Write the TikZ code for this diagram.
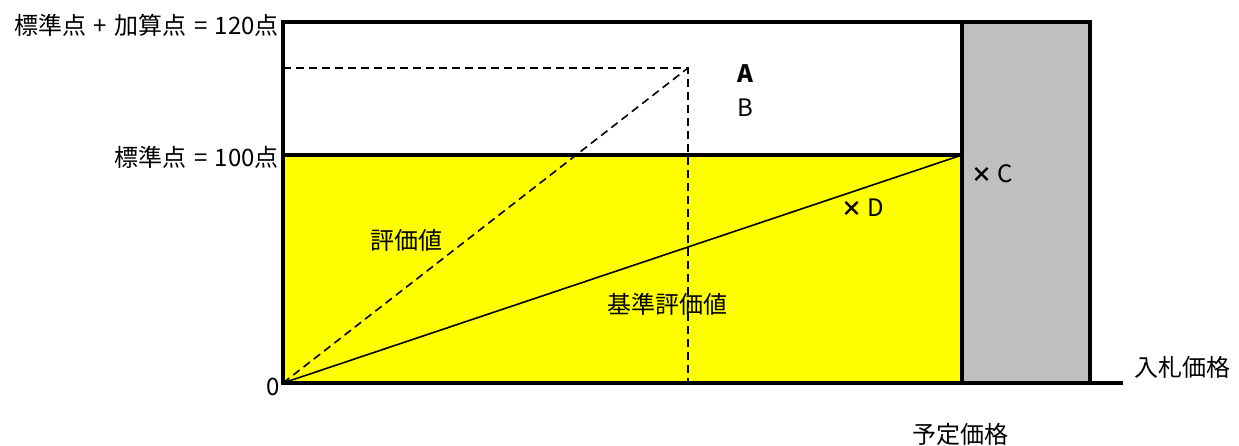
\documentclass[tikz,border=0pt]{standalone}
\usepackage{fontspec}
\setmainfont{Noto Sans CJK JP}
\newfontfamily\cjk{Noto Sans CJK JP}
\definecolor{yel}{RGB}{255,255,0}
\definecolor{gry}{RGB}{191,191,191}
\newcommand{\crossmark}{{\bfseries\fontsize{21}{21}\selectfont ×}}
\newcommand{\gap}{\hspace{7.5pt}}
\begin{document}
\begin{tikzpicture}[x=1pt,y=-1pt,
  lbl/.style={inner sep=0pt,font=\cjk\fontsize{24}{28}\selectfont},
  thick line/.style={line width=3.2pt},
  thin line/.style={line width=1.6pt},
  dash line/.style={line width=1.6pt,dash pattern=on 8pt off 5pt}]
\useasboundingbox (0,0) rectangle (1239,446);
% regions
\fill[yel] (283,155) rectangle (962,383);
\fill[gry] (962,22) rectangle (1090,383);
\coordinate (O) at (283,383);
\coordinate (P) at (688,68);
\coordinate (PL) at (283,68);
\coordinate (PB) at (688,383);
\coordinate (S) at (962,155);
\coordinate (SL) at (283,155);
\coordinate (E) at (1123,383);
% lines
\draw[dash line] (PL) -- (P) -- (PB);
\draw[dash line] (O) -- (P);
\draw[thin line] (O) -- (S);
\draw[thick line] (SL) -- (S);
\draw[thick line] (283,22) rectangle (1090,383);
\draw[thick line] (962,22) -- (962,383);
\draw[thick line] (O) -- (E);
% labels
\node[lbl,anchor=east] (l120) at (279,25) {標準点\gap{}+\gap{}加算点\gap{}=\gap{}120点};
\node[lbl,anchor=east] (l100) at (279,157) {標準点\gap{}=\gap{}100点};
\node[lbl,anchor=east] (l0) at (280,387) {0};
\node[lbl,font=\cjk\bfseries\fontsize{24}{28}\selectfont] (A) at (745,74) {A};
\node[lbl] (B) at (745,108) {B};
\node[lbl,anchor=west] (C) at (971,174) {\crossmark\ C};
\node[lbl,anchor=west] (D) at (841,208) {\crossmark\ D};
\node[lbl] (hyoka) at (406,240) {評価値};
\node[lbl] (kijun) at (667,304) {基準評価値};
\node[lbl,anchor=west] (nyusatsu) at (1134,367) {入札価格};
\node[lbl] (yotei) at (960,434) {予定価格};
\end{tikzpicture}
\end{document}
